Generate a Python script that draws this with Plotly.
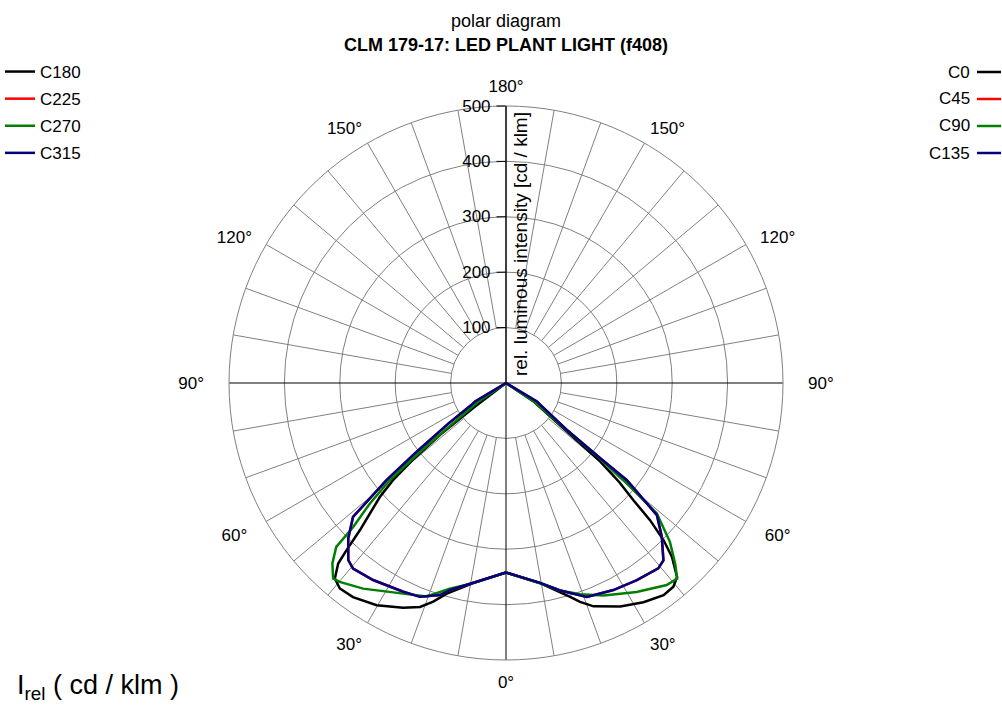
import plotly.graph_objects as go

FONT = "Liberation Sans, Arial, sans-serif"

# ---- data (gamma = angle from nadir in degrees, r = cd/klm) ----
# right half of the diagram
c0_gamma = [0, 9.5, 16.7, 18.7, 21.4, 27.1, 32.1, 36.6, 39.4, 41.4, 43.65, 45.06, 46.4, 47.4, 48.8, 50.2, 51.5, 56.2, 90]
c0_r = [342, 366, 403, 417, 433, 453, 467, 477, 476, 467, 434, 402, 359, 312, 272, 221, 140, 59, 0]

c90_gamma = [0, 9.5, 14.6, 19.3, 24.7, 32.0, 38.5, 41.2, 43.1, 45.9, 49.15, 50.4, 51.3, 52.2, 56.5, 90]
c90_r = [342, 366, 387, 404, 422, 445, 466, 469, 447, 412, 360, 275, 210, 140, 62, 0]

c135_gamma = [0, 9.7, 14.6, 20.7, 27.4, 33.6, 39.4, 41.6, 45.4, 48.8, 51.2, 51.4, 52.4, 57.5, 59.2, 90]
c135_r = [342, 366, 387, 413, 421, 427, 433, 428, 395, 362, 280, 217, 138, 73, 65, 0]

c45_gamma = [0, 9.7, 14.6, 20.7, 27.4, 33.6, 39.4, 41.6, 45.4, 48.8, 51.2, 51.4, 52.4, 57.5, 59.2, 90]
c45_r = [342, 366, 387, 413, 421, 427, 433, 428, 395, 362, 280, 217, 138, 73, 65, 0]

# left half of the diagram
c180_gamma = [0, 9.3, 15.7, 18.4, 21.0, 24.6, 30.2, 35.55, 38.96, 41.2, 42.9, 43.65, 44.8, 47.9, 49.3, 50.5, 51.8, 52.8, 90]
c180_r = [342, 366, 395, 416, 433, 446, 464, 475, 477, 469, 445, 417, 374, 307, 269, 220, 150, 70, 0]

c270_gamma = [0, 9.3, 15.3, 20.4, 26.0, 34.8, 39.9, 41.5, 43.9, 46.0, 46.7, 48.5, 50.1, 51.3, 52.5, 56, 90]
c270_r = [342, 366, 385, 411, 423, 452, 468, 471, 452, 426, 379, 328, 273, 200, 130, 62, 0]

c315_gamma = [0, 9.5, 15.1, 17.3, 21.9, 26.2, 34.0, 39.5, 41.7, 45.4, 48.8, 50.9, 52.5, 54.9, 57.5, 59.2, 90]
c315_r = [342, 366, 387, 401, 416, 420, 429, 434, 428, 400, 367, 278, 200, 126, 75, 65, 0]

c225_gamma = [0, 9.5, 15.1, 17.3, 21.9, 26.2, 34.0, 39.5, 41.7, 45.4, 48.8, 50.9, 52.5, 54.9, 57.5, 59.2, 90]
c225_r = [342, 366, 387, 401, 416, 420, 429, 434, 428, 400, 367, 278, 200, 126, 75, 65, 0]

radial_ticks = [100, 200, 300, 400, 500]
angle_tickvals = [0, 30, 60, 90, 120, 150, 180, 210, 240, 270, 300, 330]
NB = "\u00a0"
angle_ticktext = ["0°", "30°", NB * 2 + "60°", NB * 3 + "90°", NB + "120°", "150°", "180°",
                  "150°", "120°" + NB, "90°" + NB * 3, "60°" + NB * 2, "30°"]
spoke_step = 10

right_names = ["C0", "C45", "C90", "C135"]
left_names = ["C180", "C225", "C270", "C315"]
colors = {"black": "#000000", "red": "#ff0000", "green": "#008000", "blue": "#000080"}

# ---- geometry of the figure ----
W, H = 1002, 706
CX, CY, R = 506, 383, 277  # pixels
GRID = "#808080"

fig = go.Figure()

# spokes (grid) from r=100 to r=500 every 10 degrees
sp_r, sp_t = [], []
for a in range(0, 360, spoke_step):
    if a % 90 == 0:
        continue
    sp_r += [radial_ticks[0], radial_ticks[-1], None]
    sp_t += [a, a, None]
fig.add_trace(go.Scatterpolar(r=sp_r, theta=sp_t, mode="lines",
                              line=dict(color=GRID, width=1),
                              showlegend=False, hoverinfo="skip"))
# main cross axes
fig.add_trace(go.Scatterpolar(r=[radial_ticks[-1], 0, radial_ticks[-1]], theta=[90, 0, 270], mode="lines",
                              line=dict(color="black", width=1), showlegend=False, hoverinfo="skip"))
fig.add_trace(go.Scatterpolar(r=[radial_ticks[-1], 0, radial_ticks[-1]], theta=[0, 0, 180], mode="lines",
                              line=dict(color="black", width=1), showlegend=False, hoverinfo="skip"))

LW = 2.5
series = [
    ("C0", c0_gamma, c0_r, "black", "right"),
    ("C180", c180_gamma, c180_r, "black", "left"),
    ("C45", c45_gamma, c45_r, "red", "right"),
    ("C225", c225_gamma, c225_r, "red", "left"),
    ("C90", c90_gamma, c90_r, "green", "right"),
    ("C270", c270_gamma, c270_r, "green", "left"),
    ("C135", c135_gamma, c135_r, "blue", "right"),
    ("C315", c315_gamma, c315_r, "blue", "left"),
]
legend_rank = {"C180": 1, "C225": 2, "C270": 3, "C315": 4}
for name, g, r, col, side in series:
    theta = g if side == "right" else [360 - v for v in g]
    fig.add_trace(go.Scatterpolar(
        r=r, theta=theta, mode="lines", name=name, legendgroup=name,
        line=dict(color=colors[col], width=LW),
        showlegend=(side == "left"),
        legendrank=legend_rank.get(name, 100),
    ))

fig.update_layout(
    width=W, height=H, autosize=False,
    margin=dict(l=0, r=0, t=0, b=0),
    paper_bgcolor="white",
    font=dict(family=FONT, size=17, color="black"),
    polar=dict(
        domain=dict(x=[(CX - R) / W, (CX + R) / W], y=[(H - CY - R) / H, (H - CY + R) / H]),
        bgcolor="white",
        angularaxis=dict(rotation=-90, direction="counterclockwise",
                         tickmode="array", tickvals=angle_tickvals, ticktext=angle_ticktext,
                         showgrid=False, showline=True, linecolor=GRID, linewidth=1,
                         ticks="outside", ticklen=7, tickcolor="rgba(0,0,0,0)",
                         tickfont=dict(size=17, family=FONT, color="black")),
        radialaxis=dict(range=[0, 500], tickmode="array", tickvals=radial_ticks,
                        angle=90, side="counterclockwise", tickangle=90,
                        showgrid=True, gridcolor=GRID, gridwidth=1,
                        showline=True, linecolor="black", linewidth=1,
                        ticks="outside", ticklen=9, tickcolor="black",
                        tickfont=dict(size=17, family=FONT, color="black")),
    ),
    legend=dict(x=0, y=1 - 54 / H, xanchor="left", yanchor="top",
                font=dict(size=17, family=FONT, color="black"),
                bgcolor="rgba(0,0,0,0)", traceorder="grouped", tracegroupgap=2.0),
)

# titles
fig.add_annotation(text="polar diagram", x=CX / W, y=1 - 21 / H, xref="paper", yref="paper",
                   xanchor="center", yanchor="middle", showarrow=False,
                   font=dict(size=18, family=FONT, color="black"))
fig.add_annotation(text="<b>CLM 179-17: LED PLANT LIGHT (f408)</b>", x=CX / W, y=1 - 45 / H,
                   xref="paper", yref="paper", xanchor="center", yanchor="middle", showarrow=False,
                   font=dict(size=18, family=FONT, color="black"))

# radial axis title
fig.add_annotation(text="rel. luminous intensity [cd / klm]", x=520 / W, y=1 - 244 / H,
                   xref="paper", yref="paper", textangle=-90, showarrow=False,
                   font=dict(size=19, family=FONT, color="black"))

# right-hand legend (text left of the line)
row_y = [72, 99, 126, 153]
for name, yy, col in zip(right_names, row_y, ["black", "red", "green", "blue"]):
    fig.add_annotation(text=name, x=972 / W, y=1 - yy / H, xref="paper", yref="paper",
                       xanchor="right", yanchor="middle", showarrow=False,
                       font=dict(size=17, family=FONT, color="black"))
    fig.add_shape(type="line", xref="paper", yref="paper",
                  x0=977 / W, x1=1001 / W, y0=1 - yy / H, y1=1 - yy / H,
                  line=dict(color=colors[col], width=LW))

# unit label bottom-left
fig.add_annotation(text="I<sub>rel</sub> ( cd / klm )", x=15 / W, y=1 - 687 / H,
                   xref="paper", yref="paper", xanchor="left", yanchor="middle",
                   showarrow=False, font=dict(size=27, family=FONT, color="black"))

fig.write_html("out.html", config={"displayModeBar": False},
               post_script="document.body.style.margin='0px';document.body.style.overflow='hidden';")
